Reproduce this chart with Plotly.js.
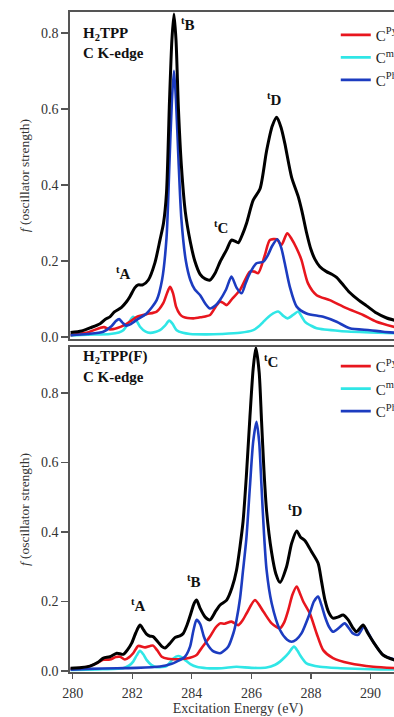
<!DOCTYPE html>
<html>
<head>
<meta charset="utf-8">
<script src="https://cdn.plot.ly/plotly-3.0.1.min.js"></script>
<style>
html,body{margin:0;padding:0;overflow:hidden;background:#fff;}
#chart{width:450px;height:717px;}
</style>
</head>
<body>
<div id="chart"></div>
<script>
// ---------- Top panel: H2TPP ----------
const topTotalX = [279.93,280.3,280.58,280.92,281.1,281.25,281.4,281.64,281.8,281.92,282.09,282.2,282.35,282.54,282.76,282.93,283.05,283.15,283.25,283.33,283.4,283.47,283.55,283.65,283.78,283.95,284.1,284.28,284.45,284.61,284.78,284.95,285.17,285.33,285.45,285.56,285.7,285.84,286.06,286.29,286.51,286.7,286.85,287.0,287.12,287.35,287.57,287.7,287.85,288.0,288.13,288.3,288.52,288.7,288.86,289.05,289.3,289.6,289.87,290.2,290.54,291.0,291.2];
const topTotalY = [0.012,0.016,0.024,0.035,0.047,0.053,0.066,0.078,0.092,0.106,0.130,0.137,0.137,0.150,0.195,0.255,0.30,0.38,0.62,0.78,0.85,0.78,0.60,0.45,0.33,0.25,0.20,0.165,0.153,0.150,0.168,0.198,0.230,0.255,0.252,0.248,0.27,0.30,0.36,0.39,0.49,0.555,0.578,0.55,0.51,0.42,0.37,0.33,0.275,0.23,0.205,0.185,0.172,0.165,0.157,0.14,0.117,0.097,0.082,0.063,0.05,0.04,0.036];

const topPyrX = [279.93,280.5,280.92,281.05,281.25,281.5,281.75,281.95,282.15,282.48,282.82,283.04,283.18,283.27,283.37,283.47,283.6,283.71,284.05,284.3,284.61,284.8,284.94,285.05,285.17,285.35,285.62,285.95,286.1,286.23,286.45,286.62,286.85,287.01,287.2,287.35,287.52,287.68,287.9,288.19,288.63,289.19,289.75,290.2,291.2];
const topPyrY = [0.005,0.012,0.024,0.026,0.020,0.024,0.032,0.042,0.053,0.060,0.067,0.089,0.118,0.132,0.115,0.080,0.060,0.053,0.049,0.052,0.058,0.080,0.093,0.090,0.084,0.100,0.124,0.172,0.172,0.168,0.215,0.255,0.257,0.242,0.273,0.258,0.233,0.203,0.141,0.110,0.097,0.076,0.058,0.040,0.018];

const topMesoX = [279.93,280.5,281.25,281.55,281.7,281.9,282.03,282.15,282.26,282.45,282.6,282.8,282.93,283.1,283.24,283.35,283.49,283.7,283.94,284.5,285.0,285.62,286.06,286.25,286.4,286.65,286.9,287.05,287.21,287.4,287.57,287.7,287.8,288.0,288.19,288.97,290.0,291.2];
const topMesoY = [0.004,0.006,0.008,0.012,0.018,0.040,0.053,0.042,0.027,0.014,0.011,0.014,0.018,0.030,0.043,0.035,0.018,0.011,0.008,0.007,0.008,0.011,0.018,0.028,0.040,0.058,0.067,0.057,0.049,0.058,0.067,0.052,0.040,0.030,0.023,0.016,0.012,0.009];

const topPhX = [279.93,280.5,281.03,281.31,281.45,281.56,281.67,281.79,281.95,282.15,282.48,282.82,283.0,283.15,283.25,283.33,283.4,283.47,283.55,283.65,283.8,283.95,284.1,284.28,284.45,284.61,284.78,284.94,285.15,285.33,285.5,285.67,285.8,285.95,286.17,286.4,286.55,286.7,286.87,287.0,287.12,287.29,287.52,287.85,288.41,288.86,289.3,289.98,290.42,291.2];
const topPhY = [0.005,0.008,0.014,0.029,0.042,0.047,0.038,0.030,0.034,0.045,0.062,0.097,0.15,0.26,0.46,0.62,0.70,0.62,0.47,0.31,0.20,0.15,0.125,0.11,0.088,0.075,0.082,0.097,0.125,0.159,0.13,0.115,0.14,0.168,0.194,0.198,0.215,0.24,0.257,0.235,0.194,0.132,0.080,0.062,0.053,0.040,0.023,0.018,0.014,0.009];

// ---------- Bottom panel: H2TPP(F) ----------
const botTotalX = [279.93,280.3,280.58,280.85,281.03,281.25,281.48,281.7,281.85,281.98,282.12,282.26,282.38,282.48,282.6,282.7,282.85,283.0,283.1,283.25,283.43,283.6,283.71,283.85,283.94,284.08,284.16,284.28,284.45,284.61,284.8,284.95,285.17,285.35,285.5,285.62,285.72,285.83,285.95,286.06,286.15,286.26,286.34,286.42,286.51,286.68,286.82,286.96,287.18,287.35,287.52,287.65,287.8,288.02,288.24,288.35,288.47,288.6,288.74,288.9,289.08,289.25,289.4,289.53,289.75,289.9,290.09,290.42,290.78,291.2];
const botTotalY = [0.008,0.010,0.014,0.025,0.037,0.041,0.051,0.048,0.062,0.080,0.110,0.132,0.118,0.106,0.100,0.099,0.085,0.070,0.066,0.078,0.096,0.101,0.108,0.135,0.158,0.195,0.204,0.180,0.155,0.147,0.172,0.190,0.204,0.240,0.290,0.360,0.430,0.560,0.730,0.870,0.930,0.860,0.720,0.580,0.460,0.340,0.280,0.255,0.300,0.367,0.403,0.385,0.375,0.343,0.310,0.260,0.204,0.168,0.152,0.155,0.161,0.147,0.125,0.113,0.132,0.110,0.084,0.046,0.032,0.025];

const botPyrX = [279.93,280.5,280.8,281.03,281.25,281.45,281.59,281.75,281.9,282.03,282.2,282.43,282.6,282.7,282.85,282.99,283.2,283.38,283.82,284.16,284.28,284.45,284.61,284.8,284.95,285.1,285.33,285.56,285.7,285.84,286.12,286.4,286.68,286.96,287.1,287.24,287.38,287.52,287.62,287.74,287.96,288.19,288.41,288.74,289.3,290.09,291.2];
const botPyrY = [0.006,0.012,0.022,0.032,0.033,0.040,0.041,0.033,0.040,0.051,0.072,0.068,0.072,0.073,0.058,0.041,0.035,0.034,0.036,0.046,0.060,0.080,0.099,0.125,0.137,0.136,0.142,0.132,0.145,0.166,0.204,0.171,0.137,0.123,0.140,0.176,0.220,0.243,0.225,0.200,0.166,0.108,0.060,0.037,0.022,0.012,0.007];

const botMesoX = [279.93,281.0,281.7,281.9,282.03,282.15,282.26,282.37,282.48,282.65,282.82,283.15,283.3,283.38,283.54,283.65,283.77,283.95,284.16,284.5,285.0,285.5,286.0,286.51,286.8,286.96,287.1,287.24,287.43,287.55,287.63,287.85,288.3,289.0,290.0,291.2];
const botMesoY = [0.003,0.005,0.008,0.016,0.027,0.045,0.058,0.048,0.032,0.017,0.011,0.014,0.028,0.036,0.043,0.040,0.032,0.020,0.012,0.008,0.008,0.012,0.009,0.010,0.018,0.027,0.038,0.051,0.070,0.058,0.046,0.022,0.012,0.008,0.005,0.004];

const botPhX = [279.93,280.5,281.5,282.15,282.93,283.3,283.49,283.77,283.94,284.05,284.16,284.28,284.4,284.5,284.7,284.95,285.22,285.4,285.5,285.62,285.72,285.83,285.95,286.06,286.17,286.26,286.34,286.42,286.51,286.68,286.96,287.2,287.35,287.5,287.68,287.96,288.1,288.24,288.35,288.47,288.6,288.74,288.95,289.13,289.3,289.41,289.58,289.78,289.95,290.09,290.42,290.78,291.2];
const botPhY = [0.004,0.006,0.008,0.009,0.013,0.020,0.027,0.041,0.070,0.115,0.147,0.135,0.100,0.080,0.058,0.051,0.070,0.110,0.147,0.210,0.290,0.380,0.530,0.660,0.717,0.660,0.530,0.400,0.290,0.195,0.118,0.090,0.084,0.090,0.108,0.166,0.200,0.214,0.190,0.156,0.128,0.113,0.125,0.137,0.120,0.108,0.104,0.128,0.105,0.084,0.046,0.034,0.026];

const seriesNames = ['C<sup>Pyr</sup>', 'C<sup>meso</sup>', 'C<sup>Ph</sup>'];
const yTickVals = [0, 0.2, 0.4, 0.6, 0.8];
const xTickVals = [280, 282, 284, 286, 288, 290];

const RED = '#e8161e', CYAN = '#30e6e6', BLUE = '#1c3cc0', BLACK = '#000000';
const FONT = 'Liberation Serif, Times New Roman, Times, serif';

function tr(x, y, color, w, xa, ya, name, legend, show) {
  return {x: x, y: y, type: 'scatter', mode: 'lines', xaxis: xa, yaxis: ya,
    line: {color: color, width: w, shape: 'spline', smoothing: 0.7},
    name: name || '', showlegend: !!show, legend: legend, hoverinfo: 'skip'};
}

const data = [
  tr(topMesoX, topMesoY, CYAN, 2.6, 'x', 'y', seriesNames[1], 'legend', false),
  tr(topPyrX, topPyrY, RED, 2.6, 'x', 'y', seriesNames[0], 'legend', false),
  tr(topPhX, topPhY, BLUE, 2.6, 'x', 'y', seriesNames[2], 'legend', false),
  tr(topTotalX, topTotalY, BLACK, 3, 'x', 'y', 'total', 'legend', false),
  tr(botMesoX, botMesoY, CYAN, 2.6, 'x2', 'y2', seriesNames[1], 'legend2', false),
  tr(botPyrX, botPyrY, RED, 2.6, 'x2', 'y2', seriesNames[0], 'legend2', false),
  tr(botPhX, botPhY, BLUE, 2.6, 'x2', 'y2', seriesNames[2], 'legend2', false),
  tr(botTotalX, botTotalY, BLACK, 3, 'x2', 'y2', 'total', 'legend2', false),
  {x:[null], y:[null], type:'scatter', mode:'lines', xaxis:'x', yaxis:'y', name:seriesNames[0], line:{color:RED,width:2.6}, legend:'legend', showlegend:true},
  {x:[null], y:[null], type:'scatter', mode:'lines', xaxis:'x', yaxis:'y', name:seriesNames[1], line:{color:CYAN,width:2.6}, legend:'legend', showlegend:true},
  {x:[null], y:[null], type:'scatter', mode:'lines', xaxis:'x', yaxis:'y', name:seriesNames[2], line:{color:BLUE,width:2.6}, legend:'legend', showlegend:true},
  {x:[null], y:[null], type:'scatter', mode:'lines', xaxis:'x2', yaxis:'y2', name:seriesNames[0], line:{color:RED,width:2.6}, legend:'legend2', showlegend:true},
  {x:[null], y:[null], type:'scatter', mode:'lines', xaxis:'x2', yaxis:'y2', name:seriesNames[1], line:{color:CYAN,width:2.6}, legend:'legend2', showlegend:true},
  {x:[null], y:[null], type:'scatter', mode:'lines', xaxis:'x2', yaxis:'y2', name:seriesNames[2], line:{color:BLUE,width:2.6}, legend:'legend2', showlegend:true}
];

const axLine = '#555555';
const xRange = [279.91, 291.19];
function yAxis(domain, range, anchor) {
  return {domain: domain, range: range, anchor: anchor, tickvals: yTickVals, tickformat: '.1f',
    ticks: 'outside', ticklen: 7, tickwidth: 1.3, tickcolor: axLine, showline: true, linecolor: axLine,
    linewidth: 1.6, mirror: true, showgrid: false, zeroline: false,
    tickfont: {family: FONT, size: 14, color: '#333'},
    title: {text: '<i>f</i> (oscillator strength)', font: {family: FONT, size: 13.5, color: '#333'}, standoff: 8}};
}
const labFont = {family: FONT, size: 15, color: '#111'};
function lab(text, x, y, xr, yr) {
  return {text: '<b>' + text + '</b>', x: x, y: y, xref: xr, yref: yr, showarrow: false, font: labFont};
}
const layout = {
  width: 450, height: 717,
  margin: {l: 70, r: 44, t: 12, b: 45},
  paper_bgcolor: '#fff', plot_bgcolor: '#fff',
  font: {family: FONT, color: '#333'},
  xaxis: {domain: [0, 1], range: xRange, anchor: 'y', showticklabels: false, ticks: '',
    showline: true, linecolor: axLine, linewidth: 1.6, mirror: true, showgrid: false, zeroline: false},
  yaxis: yAxis([0.5045, 1], [-0.0053, 0.855], 'x'),
  xaxis2: {domain: [0, 1], range: xRange, anchor: 'y2', tickvals: xTickVals, ticks: 'outside', ticklen: 5,
    tickwidth: 1.3, tickcolor: axLine, showline: true, linecolor: axLine, linewidth: 1.6, mirror: true,
    showgrid: false, zeroline: false, tickfont: {family: FONT, size: 14, color: '#333'}, ticklabelstandoff: 3,
    title: {text: 'Excitation Energy (eV)', font: {family: FONT, size: 14, color: '#333'}, standoff: 8}},
  yaxis2: yAxis([0, 0.4924], [-0.0029, 0.932], 'x2'),
  legend: {x: 0.791, y: 0.99, xanchor: 'left', yanchor: 'top', bgcolor: 'rgba(0,0,0,0)',
    font: {family: FONT, size: 15, color: '#222'}, itemwidth: 30, tracegroupgap: 0},
  legend2: {x: 0.791, y: 0.488, xanchor: 'left', yanchor: 'top', bgcolor: 'rgba(0,0,0,0)',
    font: {family: FONT, size: 15, color: '#222'}, itemwidth: 30, tracegroupgap: 0},
  annotations: [
    {text: '<b>H<sub>2</sub>TPP</b>', x: 0.033, y: 0.983, xref: 'paper', yref: 'paper', xanchor: 'left', showarrow: false, font: labFont},
    {text: '<b>C K-edge</b>', x: 0.033, y: 0.953, xref: 'paper', yref: 'paper', xanchor: 'left', showarrow: false, font: labFont},
    {text: '<b>H<sub>2</sub>TPP(F)</b>', x: 0.033, y: 0.478, xref: 'paper', yref: 'paper', xanchor: 'left', showarrow: false, font: labFont},
    {text: '<b>C K-edge</b>', x: 0.033, y: 0.447, xref: 'paper', yref: 'paper', xanchor: 'left', showarrow: false, font: labFont},
    lab('<sup>t</sup>A', 281.72, 0.168, 'x', 'y'),
    lab('<sup>t</sup>B', 283.87, 0.824, 'x', 'y'),
    lab('<sup>t</sup>C', 284.98, 0.289, 'x', 'y'),
    lab('<sup>t</sup>D', 286.79, 0.626, 'x', 'y'),
    lab('<sup>t</sup>A', 282.22, 0.19, 'x2', 'y2'),
    lab('<sup>t</sup>B', 284.07, 0.259, 'x2', 'y2'),
    lab('<sup>t</sup>C', 286.65, 0.892, 'x2', 'y2'),
    lab('<sup>t</sup>D', 287.49, 0.463, 'x2', 'y2')
  ]
};
Plotly.newPlot('chart', data, layout, {displayModeBar: false, staticPlot: true});
</script>
</body>
</html>
